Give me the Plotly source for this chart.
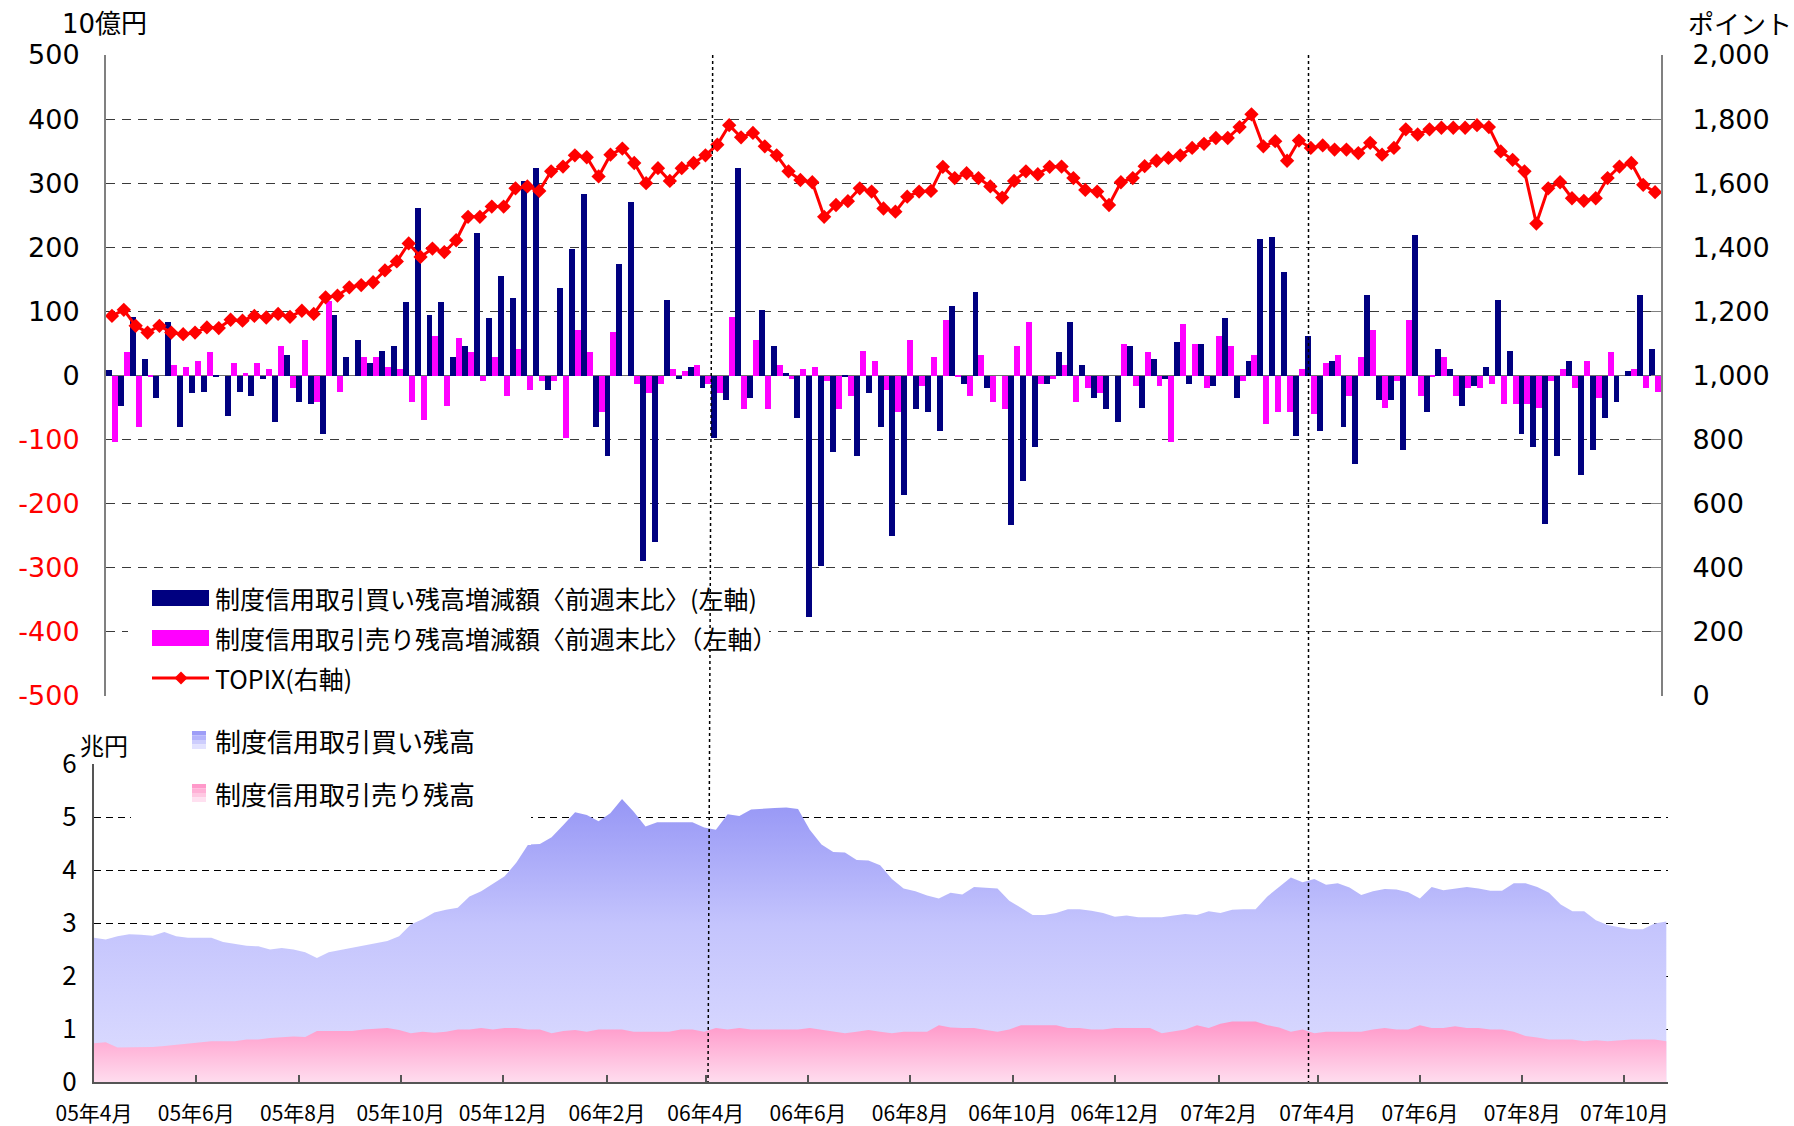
import plotly.graph_objects as go
import pandas as pd

W, H = 1794, 1126

# ---------------- top panel data (weekly, 131 weeks) ----------------
week_idx = list(range(131))
buy_change = [9, -47, 92, 25, -35, 83, -81, -28, -26, -2,
              -63, -26, -32, -6, -72, 32, -41, -44, -92, 95,
              29, 55, 19, 39, 46, 115, 261, 95, 115, 29,
              46, 222, 89, 155, 121, 304, 323, -22, 137, 197,
              283, -80, -126, 174, 270, -290, -259, 118, -6, 13,
              -19, -98, -38, 323, -35, 102, 46, 4, -66, -376,
              -297, -120, -1, -126, -28, -81, -250, -187, -53, -57,
              -86, 108, -13, 131, -19, 0, -234, -164, -111, -13,
              37, 83, 16, -35, -53, -72, 46, -50, 25, -6,
              52, -13, 49, -16, 89, -35, 22, 213, 216, 162,
              -95, 61, -86, 22, -81, -138, 125, -38, -38, -116,
              219, -57, 42, 10, -47, -16, 13, 118, 39, -92,
              -111, -231, -126, 22, -155, -116, -66, -41, 7, 125,
              42]
sell_change = [-104, 37, -80, -2, 0, 16, 13, 22, 37, 0,
               19, 4, 19, 10, 46, -19, 55, -41, 116, -26,
               0, 29, 29, 13, 10, -41, -69, 61, -47, 58,
               37, -9, 29, -32, 42, -22, -9, -9, -98, 71,
               37, -57, 68, 0, -13, -28, -13, 10, 7, 16,
               -13, -28, 92, -53, 55, -53, 16, -6, 10, 13,
               -9, -53, -32, 39, 22, -22, -57, 55, -16, 29,
               86, -2, -32, 32, -41, -53, 46, 83, -13, -6,
               16, -41, -19, -28, 0, 49, -16, 37, -16, -104,
               80, 49, -19, 61, 46, -9, 32, -75, -57, -57,
               10, -60, 19, 32, -32, 29, 71, -50, -9, 86,
               -32, -2, 29, -32, -19, -19, -13, -44, -44, -44,
               -50, -9, 10, -19, 22, -35, 37, 0, 10, -19,
               -25]
topix = [1186, 1205, 1155, 1134, 1155, 1134, 1129, 1134, 1150, 1148,
         1174, 1171, 1186, 1181, 1192, 1183, 1202, 1192, 1244, 1249,
         1275, 1282, 1291, 1328, 1356, 1412, 1370, 1396, 1385, 1422,
         1495, 1495, 1527, 1527, 1584, 1590, 1576, 1637, 1652, 1687,
         1681, 1621, 1689, 1708, 1663, 1600, 1647, 1607, 1647, 1663,
         1687, 1720, 1781, 1743, 1757, 1715, 1687, 1637, 1610, 1603,
         1495, 1532, 1544, 1584, 1574, 1521, 1511, 1558, 1574, 1576,
         1651, 1616, 1631, 1616, 1590, 1555, 1607, 1637, 1628, 1651,
         1652, 1616, 1579, 1574, 1532, 1603, 1616, 1653, 1670, 1679,
         1687, 1710, 1723, 1741, 1741, 1775, 1815, 1715, 1731, 1670,
         1733, 1710, 1718, 1705, 1705, 1694, 1726, 1689, 1710, 1768,
         1752, 1768, 1773, 1773, 1773, 1781, 1775, 1699, 1673, 1637,
         1474, 1584, 1603, 1553, 1545, 1553, 1616, 1652, 1663, 1595,
         1572]

# ---------------- bottom panel data (weekly balances, trillion yen) ----------------
bal_dates = pd.date_range("2005-04-01", periods=135, freq="7D")
buy_balance = [2.72, 2.69, 2.75, 2.79, 2.78, 2.76, 2.83, 2.75, 2.72, 2.72,
               2.72, 2.64, 2.61, 2.57, 2.56, 2.50, 2.53, 2.50, 2.45, 2.34,
               2.45, 2.49, 2.53, 2.58, 2.62, 2.66, 2.75, 2.97, 3.07, 3.20,
               3.25, 3.29, 3.50, 3.60, 3.74, 3.88, 4.14, 4.48, 4.49, 4.62,
               4.85, 5.09, 5.04, 4.92, 5.07, 5.34, 5.10, 4.82, 4.90, 4.90,
               4.90, 4.90, 4.80, 4.76, 5.05, 5.02, 5.14, 5.16, 5.17, 5.18,
               5.15, 4.76, 4.48, 4.34, 4.33, 4.19, 4.18, 4.09, 3.83, 3.65,
               3.60, 3.52, 3.46, 3.57, 3.54, 3.68, 3.66, 3.65, 3.42, 3.28,
               3.15, 3.15, 3.19, 3.26, 3.26, 3.23, 3.19, 3.12, 3.14, 3.11,
               3.11, 3.11, 3.14, 3.17, 3.15, 3.22, 3.19, 3.25, 3.26, 3.26,
               3.50, 3.68, 3.86, 3.77, 3.83, 3.72, 3.75, 3.67, 3.53, 3.60,
               3.64, 3.63, 3.58, 3.46, 3.68, 3.62, 3.65, 3.68, 3.65, 3.61,
               3.61, 3.75, 3.75, 3.68, 3.57, 3.35, 3.22, 3.22, 3.05, 2.96,
               2.92, 2.88, 2.88, 2.99, 3.03]
sell_balance = [0.73, 0.75, 0.65, 0.65, 0.65, 0.66, 0.68, 0.70, 0.73, 0.75,
                0.77, 0.77, 0.77, 0.80, 0.80, 0.83, 0.84, 0.86, 0.85, 0.96,
                0.96, 0.96, 0.96, 0.99, 1.00, 1.02, 0.98, 0.92, 0.95, 0.93,
                0.95, 0.99, 0.99, 1.02, 0.99, 1.02, 1.02, 0.99, 0.99, 0.92,
                0.96, 0.98, 0.95, 0.99, 0.99, 0.99, 0.95, 0.95, 0.95, 0.95,
                0.99, 0.99, 0.95, 1.02, 0.99, 1.02, 0.99, 0.99, 0.99, 0.99,
                0.99, 1.02, 0.99, 0.95, 0.92, 0.95, 0.98, 0.95, 0.92, 0.95,
                0.95, 0.95, 1.07, 1.03, 1.02, 1.02, 0.98, 0.95, 0.99, 1.07,
                1.07, 1.07, 1.07, 1.02, 1.02, 0.99, 0.99, 1.02, 1.02, 1.02,
                1.02, 0.92, 0.96, 0.99, 1.07, 1.02, 1.10, 1.14, 1.14, 1.14,
                1.07, 1.03, 0.95, 0.99, 0.92, 0.95, 0.95, 0.95, 0.95, 0.99,
                1.02, 0.99, 0.99, 1.07, 1.02, 1.02, 1.05, 1.02, 1.02, 0.99,
                0.99, 0.95, 0.87, 0.84, 0.80, 0.80, 0.80, 0.77, 0.79, 0.77,
                0.79, 0.80, 0.80, 0.80, 0.77]

tick_dates = ["2005-04-01", "2005-06-01", "2005-08-01", "2005-10-01", "2005-12-01",
              "2006-02-01", "2006-04-01", "2006-06-01", "2006-08-01", "2006-10-01",
              "2006-12-01", "2007-02-01", "2007-04-01", "2007-06-01", "2007-08-01",
              "2007-10-01"]
tick_labels = ["05年4月", "05年6月", "05年8月", "05年10月", "05年12月",
               "06年2月", "06年4月", "06年6月", "06年8月", "06年10月",
               "06年12月", "07年2月", "07年4月", "07年6月", "07年8月",
               "07年10月"]

left_vals = [500, 400, 300, 200, 100, 0, -100, -200, -300, -400, -500]
right_vals = [2000, 1800, 1600, 1400, 1200, 1000, 800, 600, 400, 200, 0]
bottom_vals = [0, 1, 2, 3, 4, 5, 6]

# ---------------- helpers ----------------
def fx(px):
    return px / W


def fy(py):
    return 1 - py / H


JP = "Noto Sans CJK JP"
NUM = "DejaVu Sans, Noto Sans CJK JP"
NARROW = "Liberation Sans Narrow, Noto Sans CJK JP"

left_text = [str(v) if v >= 0 else '<span style="color:#ff0000">%d</span>' % v for v in left_vals]
right_text = ["{:,}".format(v) for v in right_vals]

fig = go.Figure()

fig.add_trace(go.Bar(x=week_idx, y=buy_change, marker=dict(color="#000080", line=dict(width=0)),
                     name="制度信用取引買い残高増減額〈前週末比〉(左軸)", xaxis="x", yaxis="y",
                     showlegend=False))
fig.add_trace(go.Bar(x=week_idx, y=sell_change, marker=dict(color="#ff00ff", line=dict(width=0)),
                     name="制度信用取引売り残高増減額〈前週末比〉（左軸）", xaxis="x", yaxis="y",
                     showlegend=False))
fig.add_trace(go.Scatter(x=week_idx, y=topix, mode="lines+markers", name="TOPIX(右軸)",
                         line=dict(color="#ff0000", width=3),
                         marker=dict(symbol="diamond", size=11, color="#ff0000"),
                         xaxis="x", yaxis="y2", showlegend=False))

fig.add_trace(go.Scatter(x=bal_dates, y=buy_balance, mode="lines", name="制度信用取引買い残高",
                         line=dict(width=0, color="rgba(0,0,0,0)"), fill="tozeroy",
                         fillgradient=dict(type="vertical", start=0, stop=5.4,
                                           colorscale=[[0, "#dedeff"], [0.55, "#c4c4fd"], [1, "#9595f5"]]),
                         xaxis="x2", yaxis="y3", showlegend=False))
fig.add_trace(go.Scatter(x=bal_dates, y=sell_balance, mode="lines", name="制度信用取引売り残高",
                         line=dict(width=0, color="rgba(0,0,0,0)"), fill="tozeroy",
                         fillgradient=dict(type="vertical", start=0, stop=1.14,
                                           colorscale=[[0, "#ffdcee"], [1, "#ff96c8"]]),
                         xaxis="x2", yaxis="y3", showlegend=False))

grid_top = dict(showgrid=True, gridcolor="#3a3a3a", gridwidth=1, griddash="9px,7px")

fig.update_layout(
    width=W, height=H,
    margin=dict(l=0, r=0, t=0, b=0),
    paper_bgcolor="white", plot_bgcolor="rgba(0,0,0,0)",
    barmode="group", bargap=0, bargroupgap=0,
    showlegend=False,
    font=dict(family=JP, color="black"),
    xaxis=dict(domain=[fx(106), fx(1661)], range=[-0.5, 130.5], anchor="y",
               showticklabels=False, showgrid=False, zeroline=False, showline=False,
               ticks="", automargin=False),
    yaxis=dict(domain=[fy(696), fy(55)], range=[-500, 500], anchor="x",
               tickvals=left_vals, ticktext=left_text, ticks="",
               tickfont=dict(family=NUM, size=27, color="black"), ticklabelstandoff=19,
               showline=True, linecolor="#808080", linewidth=2,
               zeroline=True, zerolinecolor="#707070", zerolinewidth=1,
               automargin=False, **grid_top),
    yaxis2=dict(overlaying="y", side="right", anchor="x", range=[0, 2000],
                tickvals=right_vals, ticktext=right_text,
                ticks="inside", ticklen=10, tickcolor="#808080",
                tickfont=dict(family=NUM, size=27, color="black"), ticklabelstandoff=24,
                showline=True, linecolor="#808080", linewidth=2,
                showgrid=False, zeroline=False, automargin=False),
    xaxis2=dict(type="date", domain=[fx(94), fx(1668)], range=["2005-04-01", "2007-10-27"],
                anchor="y3", tickvals=tick_dates, ticktext=tick_labels,
                ticks="inside", ticklen=7, tickcolor="#555555", tickwidth=1.5,
                tickfont=dict(family=NARROW, size=21, color="black"), ticklabelstandoff=12,
                showline=True, linecolor="#555555", linewidth=2,
                showgrid=False, zeroline=False, automargin=False),
    yaxis3=dict(domain=[fy(1082), fy(764)], range=[0, 6], anchor="x2",
                tickvals=bottom_vals, ticks="",
                tickfont=dict(family=NARROW, size=26, color="black"), ticklabelstandoff=10,
                showline=True, linecolor="#555555", linewidth=2,
                showgrid=True, gridcolor="#000000", gridwidth=1, griddash="7px,5px",
                zeroline=False, automargin=False),
)

shapes = []
# legend boxes (white, cover gridlines like the original legends)
shapes.append(dict(type="rect", xref="paper", yref="paper", x0=fx(128), x1=fx(769), y0=fy(688), y1=fy(581),
                   fillcolor="white", line=dict(width=0), layer="above"))
shapes.append(dict(type="rect", xref="paper", yref="paper", x0=fx(131), x1=fx(531), y0=fy(845), y1=fy(712),
                   fillcolor="white", line=dict(width=0), layer="above"))
# fiscal-year dotted dividers
shapes.append(dict(type="line", xref="paper", yref="paper", x0=fx(712.7), y0=fy(55), x1=fx(708), y1=fy(1082),
                   line=dict(color="black", width=1.5, dash="dot"), layer="above"))
shapes.append(dict(type="line", xref="paper", yref="paper", x0=fx(1308.5), y0=fy(55), x1=fx(1308.5), y1=fy(1082),
                   line=dict(color="black", width=1.5, dash="dot"), layer="above"))
# top legend swatches
shapes.append(dict(type="rect", xref="paper", yref="paper", x0=fx(152), x1=fx(209), y0=fy(606), y1=fy(590),
                   fillcolor="#000080", line=dict(width=0), layer="above"))
shapes.append(dict(type="rect", xref="paper", yref="paper", x0=fx(152), x1=fx(209), y0=fy(646), y1=fy(630),
                   fillcolor="#ff00ff", line=dict(width=0), layer="above"))
shapes.append(dict(type="line", xref="paper", yref="paper", x0=fx(152), x1=fx(209), y0=fy(678), y1=fy(678),
                   line=dict(color="#ff0000", width=3), layer="above"))
cx, cy, r = 181, 678, 6.5
shapes.append(dict(type="path", xref="paper", yref="paper",
                   path="M %f,%f L %f,%f L %f,%f L %f,%f Z" % (fx(cx), fy(cy - r), fx(cx + r), fy(cy),
                                                           fx(cx), fy(cy + r), fx(cx - r), fy(cy)),
                   fillcolor="#ff0000", line=dict(width=0), layer="above"))
# bottom legend swatches (gradient imitation)
for (y0, cols) in [(731, ["#9d9df7", "#b4b4fb", "#cdcdfd", "#e2e2ff"]),
                   (784, ["#ff99ca", "#ffb0d6", "#ffc8e2", "#ffe0f0"])]:
    for j, c in enumerate(cols):
        shapes.append(dict(type="rect", xref="paper", yref="paper", x0=fx(192), x1=fx(206),
                           y0=fy(y0 + 4.5 * (j + 1)), y1=fy(y0 + 4.5 * j),
                           fillcolor=c, line=dict(width=0), layer="above"))
fig.update_layout(shapes=shapes)

ann = []
def txt(x, y, s, size, xanchor="left", family=JP):
    ann.append(dict(x=fx(x), y=fy(y), xref="paper", yref="paper", text=s, showarrow=False,
                    xanchor=xanchor, yanchor="middle", font=dict(family=family, size=size, color="black")))

txt(60, 24, "10億円", 26, family=NUM)
txt(1794, 22, "ポイント", 26, xanchor="right")
txt(78, 744, "兆円", 24)
txt(213, 598, "制度信用取引買い残高増減額〈前週末比〉(左軸)", 25)
txt(213, 638, "制度信用取引売り残高増減額〈前週末比〉（左軸）", 25)
txt(213, 678, "TOPIX(右軸)", 25)
txt(213, 740, "制度信用取引買い残高", 26)
txt(213, 793, "制度信用取引売り残高", 26)
fig.update_layout(annotations=ann)

fig.write_html("out.html", config={"displayModeBar": False},
               post_script="document.body.style.margin='0';document.body.style.overflow='hidden';")
